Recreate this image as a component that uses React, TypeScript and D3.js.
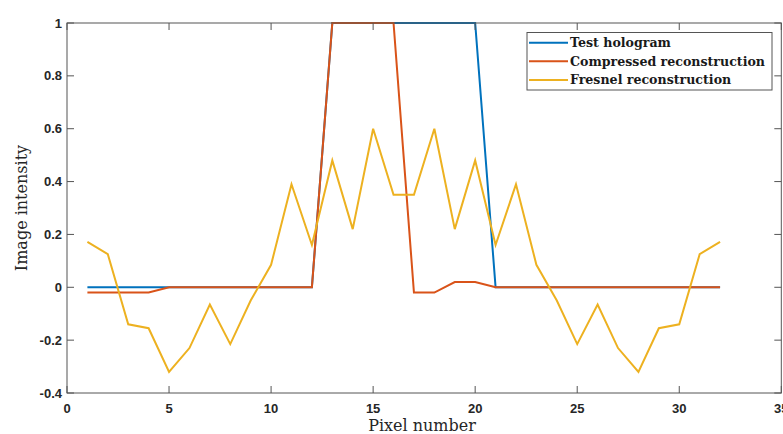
import React, { useEffect, useRef } from "react";
import * as d3 from "d3";

// pixel index 1..32
const pixels = d3.range(1, 33);

const testHologram = [
  0, 0, 0, 0, 0, 0, 0, 0, 0, 0, 0, 0, 1, 1, 1, 1,
  1, 1, 1, 1, 0, 0, 0, 0, 0, 0, 0, 0, 0, 0, 0, 0,
];

const compressed = [
  -0.02, -0.02, -0.02, -0.02, 0, 0, 0, 0, 0, 0, 0, 0, 1, 1, 1, 1,
  -0.02, -0.02, 0.02, 0.02, 0, 0, 0, 0, 0, 0, 0, 0, 0, 0, 0, 0,
];

const fresnel = [
  0.172, 0.125, -0.14, -0.155, -0.32, -0.23, -0.065, -0.215, -0.05, 0.085, 0.39, 0.16, 0.48, 0.22, 0.6, 0.35,
  0.35, 0.6, 0.22, 0.48, 0.16, 0.39, 0.085, -0.05, -0.215, -0.065, -0.23, -0.32, -0.155, -0.14, 0.125, 0.172,
];

const seriesNames = ["Test hologram", "Compressed reconstruction", "Fresnel reconstruction"];
const seriesColors = ["#0072BD", "#D95319", "#EDB120"];

const xTicks = [0, 5, 10, 15, 20, 25, 30, 35];
const yTicks = [-0.4, -0.2, 0, 0.2, 0.4, 0.6, 0.8, 1];

const W = 783;
const H = 434;

export default function App() {
  const ref = useRef<SVGSVGElement>(null);

  useEffect(() => {
    const svg = d3.select(ref.current);
    svg.selectAll("*").remove();

    const left = 67, right = 781.3, top = 23, bottom = 393;
    const x = d3.scaleLinear().domain([0, 35]).range([left, right]);
    const y = d3.scaleLinear().domain([-0.4, 1]).range([bottom, top]);
    const axisColor = "#555";
    const tickFont = "'Liberation Sans', Arial, sans-serif";
    const serif = "'DejaVu Serif', serif";

    // lines
    const line = d3.line<number>()
      .x((_, i) => x(pixels[i]))
      .y((d) => y(d));

    const allSeries = [testHologram, compressed, fresnel];
    const plot = svg.append("g");
    allSeries.forEach((s, i) => {
      plot.append("path")
        .datum(s)
        .attr("d", line)
        .attr("fill", "none")
        .attr("stroke", seriesColors[i])
        .attr("stroke-width", 2)
        .attr("stroke-linejoin", "miter");
    });

    // box
    const g = svg.append("g");
    g.append("rect")
      .attr("x", left).attr("y", top)
      .attr("width", right - left).attr("height", bottom - top)
      .attr("fill", "none").attr("stroke", axisColor).attr("stroke-width", 1);

    const tl = 7;
    xTicks.forEach((t) => {
      g.append("line").attr("x1", x(t)).attr("x2", x(t)).attr("y1", bottom).attr("y2", bottom - tl).attr("stroke", axisColor);
      g.append("line").attr("x1", x(t)).attr("x2", x(t)).attr("y1", top).attr("y2", top + tl).attr("stroke", axisColor);
      g.append("text")
        .attr("x", x(t)).attr("y", bottom + 20)
        .attr("text-anchor", "middle")
        .attr("font-family", tickFont).attr("font-weight", "bold").attr("font-size", 13)
        .attr("fill", "#262626")
        .text(String(t));
    });
    yTicks.forEach((t) => {
      g.append("line").attr("x1", left).attr("x2", left + tl).attr("y1", y(t)).attr("y2", y(t)).attr("stroke", axisColor);
      g.append("line").attr("x1", right).attr("x2", right - tl).attr("y1", y(t)).attr("y2", y(t)).attr("stroke", axisColor);
      g.append("text")
        .attr("x", left - 5).attr("y", y(t) + 4.5)
        .attr("text-anchor", "end")
        .attr("font-family", tickFont).attr("font-weight", "bold").attr("font-size", 13)
        .attr("fill", "#262626")
        .text(String(t));
    });

    // axis labels
    g.append("text")
      .attr("x", 422).attr("y", 431)
      .attr("text-anchor", "middle")
      .attr("font-family", serif).attr("font-size", 16)
      .attr("fill", "#262626")
      .text("Pixel number");
    g.append("text")
      .attr("transform", `translate(27,${(top + bottom) / 2}) rotate(-90)`)
      .attr("text-anchor", "middle")
      .attr("font-family", serif).attr("font-size", 16)
      .attr("fill", "#262626")
      .text("Image intensity");

    // legend
    const lg = svg.append("g");
    lg.append("rect")
      .attr("x", 527).attr("y", 32.5).attr("width", 245).attr("height", 57.5)
      .attr("fill", "#fff").attr("stroke", axisColor);
    seriesNames.forEach((name, i) => {
      const ly = 42.7 + i * 18.6;
      lg.append("line").attr("x1", 529).attr("x2", 568).attr("y1", ly).attr("y2", ly)
        .attr("stroke", seriesColors[i]).attr("stroke-width", 2);
      lg.append("text")
        .attr("x", 570).attr("y", ly + 4.5)
        .attr("font-family", serif).attr("font-weight", "bold").attr("font-size", 12.6)
        .attr("fill", "#1a1a1a")
        .text(name);
    });
  }, []);

  return <svg ref={ref} width={W} height={H} style={{ display: "block", position: "absolute", left: 0, top: 0 }} />;
}
